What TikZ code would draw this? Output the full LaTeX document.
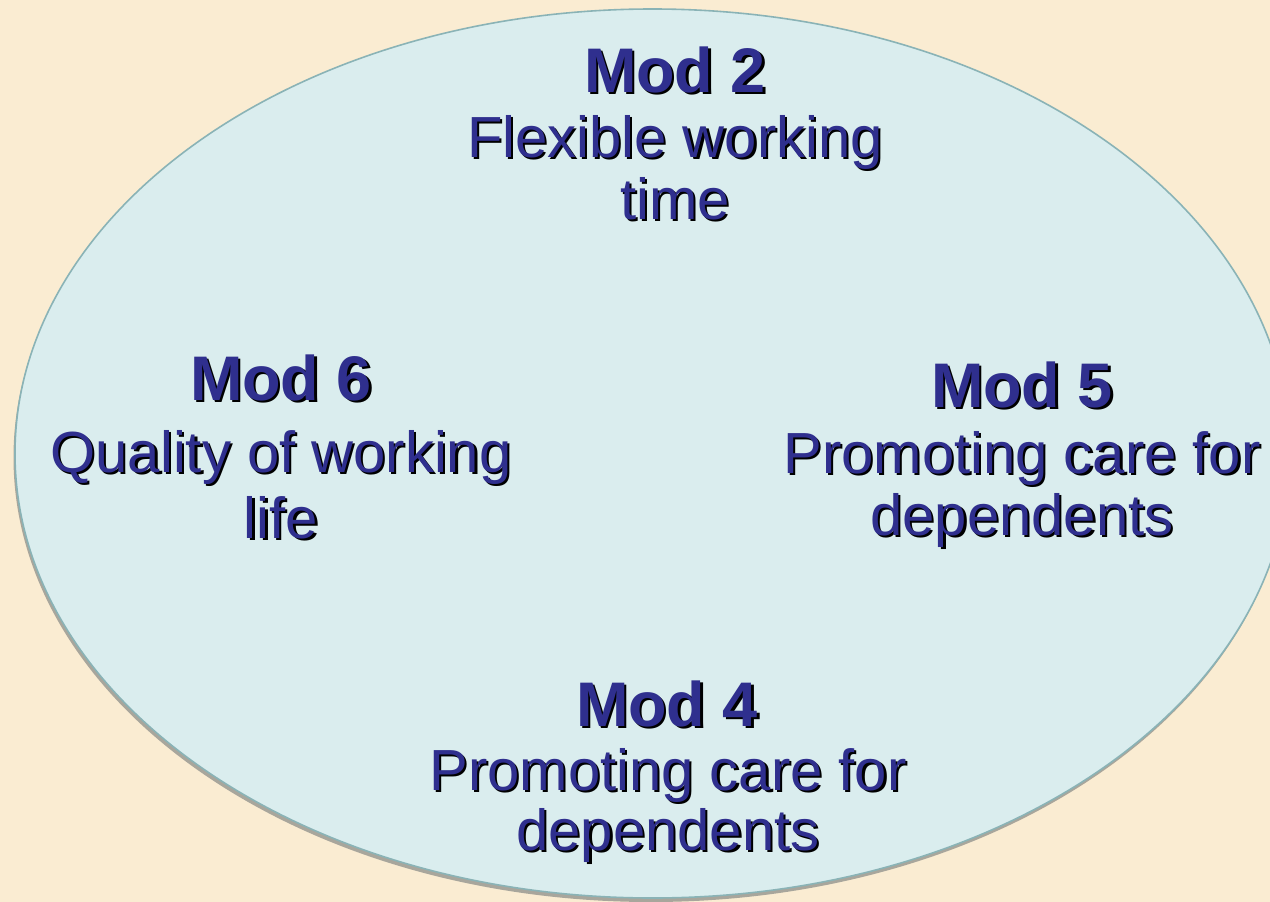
\documentclass[tikz,border=0pt]{standalone}
\usepackage{fontspec}
\setmainfont{Liberation Sans}
\definecolor{paper}{HTML}{FAECD2}
\definecolor{pool}{HTML}{DAEDEE}
\definecolor{rim}{HTML}{8AB3B6}
\definecolor{ink}{HTML}{2F2F8E}
\definecolor{drop}{HTML}{A8A69C}
% text with a black drop shadow offset right and down
\newcommand\shd[1]{\rlap{\kern2.2pt\raisebox{-2.2pt}{\color{black}#1}}#1}
\tikzset{
  head/.style={anchor=base, text=ink, inner sep=0pt,
    font=\fontsize{63}{67}\selectfont\bfseries},
  body/.style={anchor=base, text=ink, inner sep=0pt,
    font=\fontsize{58}{63}\selectfont}
}
\begin{document}
\begin{tikzpicture}[x=1pt,y=-1pt]
  \useasboundingbox (0,0) rectangle (1270,902);
  \fill[paper] (0,0) rectangle (1270,902);
  \begin{scope}
    \clip (0,0) rectangle (1270,902);
    \fill[drop] (651,457.5) ellipse [x radius=637.5, y radius=444.5];
    \fill[pool, draw=rim, line width=1.6pt] (652.5,453.5) ellipse [x radius=637.5, y radius=444.5];
  \end{scope}

  % Mod 2
  \node[head] (m2a) at (675,92)  {\shd{Mod 2}};
  \node[body] (m2b) at (675,157) {\shd{Flexible working}};
  \node[body] (m2c) at (675,219) {\shd{time}};

  % Mod 6
  \node[head] (m6a) at (281,400) {\shd{Mod 6}};
  \node[body] (m6b) at (281,472) {\shd{Quality of working}};
  \node[body] (m6c) at (281,538) {\shd{life}};

  % Mod 5
  \node[head] (m5a) at (1022,407) {\shd{Mod 5}};
  \node[body] (m5b) at (1022,473) {\shd{Promoting care for}};
  \node[body] (m5c) at (1022,535) {\shd{dependents}};

  % Mod 4
  \node[head] (m4a) at (667,726) {\shd{Mod 4}};
  \node[body] (m4b) at (668,790) {\shd{Promoting care for}};
  \node[body] (m4c) at (668,850) {\shd{dependents}};
\end{tikzpicture}
\end{document}
